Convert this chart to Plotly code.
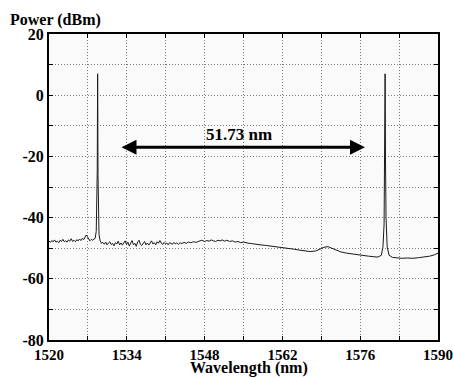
import plotly.graph_objects as go

# Spectrum data (wavelength in nm, power in dBm)
wavelength = [
    1520.0, 1520.25, 1520.5, 1520.75, 1521.0, 1521.25, 1521.5, 1521.75, 1522.0, 1522.25,
    1522.5, 1522.75, 1523.0, 1523.25, 1523.5, 1523.75, 1524.0, 1524.25, 1524.5, 1524.75,
    1525.0, 1525.25, 1525.5, 1525.75, 1526.0, 1526.25, 1526.5, 1526.7, 1526.9, 1527.1,
    1527.35, 1527.6, 1527.85, 1528.1, 1528.3,
    1528.5, 1528.6, 1528.68, 1528.73, 1528.75, 1528.78, 1528.82, 1528.9, 1529.0,
    1529.2, 1529.45, 1529.7, 1529.95, 1530.2, 1530.45, 1530.7, 1530.95, 1531.2, 1531.45,
    1531.7, 1531.95, 1532.2, 1532.45, 1532.7, 1532.95, 1533.2, 1533.45, 1533.7, 1533.95,
    1534.2, 1534.45, 1534.7, 1534.95, 1535.2, 1535.45, 1535.7, 1535.95, 1536.2, 1536.45,
    1536.7, 1536.95, 1537.2, 1537.45, 1537.7, 1537.95, 1538.2, 1538.45, 1538.7, 1538.95,
    1539.2, 1539.45, 1539.7, 1539.95, 1540.2, 1540.45, 1540.7, 1540.95, 1541.2, 1541.45,
    1541.7, 1541.95, 1542.2, 1542.45, 1542.7, 1542.95, 1543.3, 1543.6, 1543.9, 1544.3,
    1544.7, 1545.1, 1545.5, 1546.0, 1546.5, 1547.0,
    1547.5, 1548.0, 1548.4, 1548.8, 1549.2, 1549.6, 1550.0, 1550.4, 1550.8, 1551.2,
    1551.6, 1552.0, 1552.5, 1553.0, 1553.5, 1554.0, 1554.5, 1555.0, 1555.5, 1556.0,
    1556.5, 1557.0, 1558.0, 1559.0, 1560.0, 1561.0, 1562.0,
    1563.0, 1564.0, 1565.0, 1566.0, 1567.0, 1568.0, 1568.8, 1569.5, 1570.2, 1570.8,
    1571.5, 1572.5, 1573.5, 1574.5, 1575.5, 1576.5, 1577.5, 1578.5, 1579.2, 1579.8,
    1580.1, 1580.3, 1580.4, 1580.46, 1580.48, 1580.5, 1580.55, 1580.65, 1580.85, 1581.2,
    1581.8, 1582.5, 1583.5, 1584.5, 1585.5, 1586.5, 1587.5, 1588.5, 1589.3, 1590.0,
]
power = [
    -47.6, -48.1, -47.5, -47.9, -47.3, -48.0, -47.7, -48.2, -47.4, -47.8,
    -47.1, -47.9, -47.6, -48.0, -47.3, -47.7, -46.9, -47.8, -47.4, -47.9,
    -47.2, -47.6, -47.0, -47.5, -46.8, -47.2, -46.3, -45.7, -46.2, -47.0,
    -47.6, -47.1, -47.4, -47.0, -46.8,
    -44.5, -38.0, -25.0, -3.0, 7.0, -3.5, -26.0, -40.0, -45.5,
    -47.6, -48.4, -48.1, -48.7, -48.0, -48.9, -48.3, -47.9, -48.8, -48.4,
    -49.2, -48.2, -48.6, -47.7, -48.9, -48.3, -49.0, -48.1, -47.6, -48.8,
    -48.0, -49.3, -48.2, -47.5, -48.9, -48.4, -49.4, -48.0, -47.4, -48.7,
    -49.1, -48.2, -47.8, -48.9, -48.3, -49.0, -48.1, -47.6, -48.6, -48.2,
    -48.9, -47.9, -48.4, -47.5, -48.3, -48.8, -48.1, -48.6, -48.3, -48.9,
    -48.2, -48.5, -48.7, -48.1, -48.6, -48.3, -48.7, -48.2, -48.5, -48.1,
    -48.4, -48.0, -48.2, -47.9, -48.1, -47.7,
    -47.4, -47.8, -47.5, -47.7, -47.3, -47.6, -47.8, -47.4, -47.6, -47.3,
    -47.7, -47.4, -47.8, -47.6, -48.0, -47.8, -48.2, -48.0, -48.3, -48.4,
    -48.5, -48.7, -48.9, -49.1, -49.3, -49.5, -49.8,
    -50.0, -50.3, -50.6, -50.9, -51.1, -50.9, -50.3, -49.7, -49.5, -49.9,
    -50.6, -51.2, -51.6, -51.9, -52.2, -52.4, -52.6, -52.8, -52.9, -52.3,
    -49.5, -42.0, -25.0, -2.0, 7.0, 3.0, -20.0, -40.0, -49.5, -52.3,
    -53.0, -53.2, -53.3, -53.2, -53.3, -53.1, -52.9, -52.6, -52.2, -51.6,
]
assert len(wavelength) == len(power)

# Tick labels
x_tick_vals = [1520, 1534, 1548, 1562, 1576, 1590]
x_tick_text = ["1520", "1534", "1548", "1562", "1576", "1590"]
y_tick_vals = [20, 0, -20, -40, -60, -80]
y_tick_text = ["20", "0", "-20", "-40", "-60", "-80"]

# Spacing annotation
arrow_start = 1532.78
arrow_end = 1576.87
arrow_level = -17.0
spacing_label = "51.73 nm"

x_range = [1520, 1590]
y_range = [-80, 20]
x_title = "Wavelength (nm)"
y_title = "Power (dBm)"

font_family = "Liberation Serif, Times New Roman, serif"
grid_dash = "1px,2px"
grid_color = "#7a7a7a"

fig = go.Figure()
fig.add_trace(go.Scatter(
    x=wavelength, y=power, mode="lines",
    line=dict(color="#1a1a1a", width=1),
    showlegend=False, hoverinfo="skip",
))

axis_common = dict(
    showline=True, linecolor="black", linewidth=2, mirror="ticks",
    ticks="inside", ticklen=4, tickcolor="black", tickwidth=1,
    showgrid=True, gridcolor=grid_color, gridwidth=1, griddash=grid_dash,
    zeroline=False, ticklabeloverflow="allow", automargin=False,
)

fig.update_xaxes(
    range=x_range, tickmode="array", tickvals=x_tick_vals, ticktext=x_tick_text,
    tickfont=dict(family=font_family, size=15, color="black", weight="bold"),
    minor=dict(dtick=7, tick0=1520, showgrid=True, gridcolor=grid_color,
               griddash=grid_dash, gridwidth=1, ticks="inside", ticklen=4,
               tickcolor="black"),
    **axis_common,
)
fig.update_yaxes(
    range=y_range, tickmode="array", tickvals=y_tick_vals, ticktext=y_tick_text,
    tickfont=dict(family=font_family, size=16, color="black", weight="bold"),
    minor=dict(dtick=10, tick0=-80, showgrid=True, gridcolor=grid_color,
               griddash=grid_dash, gridwidth=1, ticks="inside", ticklen=4,
               tickcolor="black"),
    **axis_common,
)

# double-headed arrow
fig.add_annotation(
    x=arrow_end, y=arrow_level, ax=arrow_start, ay=arrow_level,
    xref="x", yref="y", axref="x", ayref="y",
    text="", showarrow=True, arrowhead=2, startarrowhead=2,
    arrowside="end+start", arrowsize=1, startarrowsize=1,
    arrowwidth=3, arrowcolor="black",
)
fig.add_annotation(
    x=(arrow_start + arrow_end) / 2 - 0.6, y=arrow_level + 4,
    xref="x", yref="y", text=spacing_label, showarrow=False,
    font=dict(family=font_family, size=17, color="black", weight="bold"),
)
fig.add_annotation(
    x=-41 / 389, y=1 + 14 / 306, xref="paper", yref="paper",
    xanchor="left", yanchor="middle", text=y_title, showarrow=False,
    font=dict(family=font_family, size=16, color="black", weight="bold"),
)
fig.add_annotation(
    x=0.514, y=-28 / 306, xref="paper", yref="paper",
    xanchor="center", yanchor="middle", text=x_title, showarrow=False,
    font=dict(family=font_family, size=16, color="black", weight="bold"),
)

fig.update_layout(
    width=453, height=378,
    margin=dict(l=49, r=15, t=34, b=38),
    paper_bgcolor="white", plot_bgcolor="#fafafa",
    font=dict(family=font_family, color="black"),
)

# remove the default page margin so the figure fills the window exactly
fig.write_html(
    "out.html",
    config={"displayModeBar": False},
    post_script="document.body.style.margin='0';",
)
